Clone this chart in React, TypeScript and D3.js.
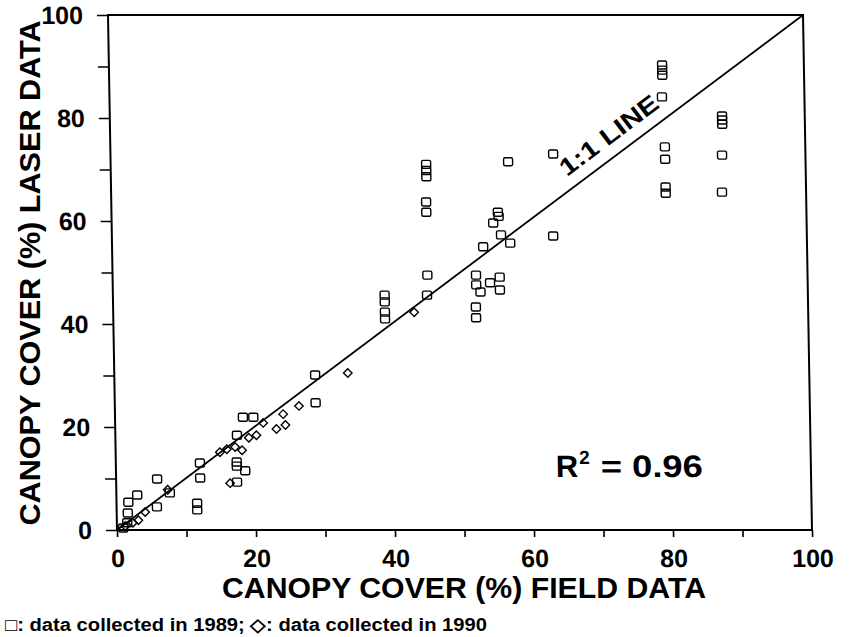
import React, { useEffect, useRef } from 'react';
import * as d3 from 'd3';

// squares: data collected in 1989
const field1989 = [0.9, 1.5, 1.6, 1.7, 3.0, 5.8, 5.9, 7.7, 11.6, 11.6, 12.1, 12.1, 17.5, 17.4, 17.4, 18.6, 17.4, 18.4, 19.9, 28.9, 28.9,
  39.1, 39.1, 39.1, 39.1, 45.3, 45.2, 45.4, 45.4, 45.4, 45.3, 45.3, 52.3, 52.3, 52.9, 54.3, 55.7, 55.7, 52.2, 52.2, 53.4, 54.9,
  55.6, 55.7, 56.0, 57.3, 57.2, 63.7, 63.5, 79.6, 79.6, 79.6, 79.5, 79.8, 79.8, 79.8, 79.8, 88.1, 88.1, 88.1, 88.0, 87.9];
const laser1989 = [0.4, 1.4, 3.3, 5.4, 6.8, 4.5, 9.9, 7.2, 5.2, 3.9, 13.0, 10.1, 18.4, 13.2, 12.4, 11.5, 9.3, 21.9, 21.9, 24.7, 30.1,
  45.6, 44.3, 42.3, 41.0, 49.5, 45.6, 71.0, 69.8, 68.6, 63.7, 61.7, 49.5, 47.6, 46.2, 48.0, 49.1, 46.6, 43.3, 41.2, 55.0, 59.6,
  61.7, 60.9, 57.3, 55.7, 71.5, 73.0, 57.1, 90.3, 89.3, 88.3, 84.1, 74.4, 72.0, 66.6, 65.4, 80.4, 79.6, 78.8, 72.8, 65.6];

// diamonds: data collected in 1990
const field1990 = [16.4, 17.2, 18.2, 16.0, 15.0, 19.2, 20.3, 21.3, 23.2, 24.5, 24.2, 26.5, 4.1, 3.1, 2.3, 7.4, 1.2, 33.6, 43.3];
const laser1990 = [9.1, 16.1, 15.5, 15.7, 15.1, 17.9, 18.4, 20.8, 19.6, 20.4, 22.5, 24.1, 3.5, 1.9, 1.4, 7.8, 0.8, 30.5, 42.3];

const xTicks = [0, 10, 20, 30, 40, 50, 60, 70, 80, 90, 100];
const yTicks = [0, 10, 20, 30, 40, 50, 60, 70, 80, 90, 100];

const font = '"Liberation Sans", Arial, Helvetica, sans-serif';

export default function App() {
  const svgRef = useRef<SVGSVGElement>(null);
  const width = 850;
  const height = 637;

  useEffect(() => {
    const svg = d3.select(svgRef.current);
    svg.selectAll('*').remove();

    const W = 695;
    const H = 515;
    const x = d3.scaleLinear().domain([0, 100]).range([0, W]);
    const y = d3.scaleLinear().domain([0, 100]).range([H, 0]);

    // the scan leans a little, so the plot is sheared by a degree
    const g = svg.append('g').attr('transform', 'translate(108,15) skewX(1)');

    g.append('rect')
      .attr('width', W)
      .attr('height', H)
      .attr('fill', 'none')
      .attr('stroke', '#000')
      .attr('stroke-width', 2);

    const yAxis = d3.axisLeft(y)
      .tickValues(yTicks)
      .tickSize(11)
      .tickPadding(14)
      .tickFormat(d => (+d % 20 === 0 ? String(d) : ''));
    const ya = g.append('g').call(yAxis);
    ya.select('.domain').remove();
    ya.selectAll('line').attr('stroke-width', 1.6);
    ya.selectAll('text')
      .attr('font-family', font)
      .attr('font-weight', 'bold')
      .attr('font-size', 25)
      .attr('fill', '#000');

    const xAxis = d3.axisBottom(x)
      .tickValues(xTicks)
      .tickSize(7)
      .tickPadding(12)
      .tickFormat(d => (+d % 20 === 0 ? String(d) : ''));
    const xa = g.append('g').attr('transform', `translate(0,${H})`).call(xAxis);
    xa.select('.domain').remove();
    xa.selectAll('line').attr('stroke-width', 1.6);
    xa.selectAll('text')
      .attr('font-family', font)
      .attr('font-weight', 'bold')
      .attr('font-size', 25)
      .attr('fill', '#000');

    // 1:1 line
    g.append('line')
      .attr('x1', x(0)).attr('y1', y(0))
      .attr('x2', x(100)).attr('y2', y(100))
      .attr('stroke', '#000')
      .attr('stroke-width', 1.8);

    const angle = Math.atan2(y(100) - y(0), x(100) - x(0)) * 180 / Math.PI;
    g.append('text')
      .attr('transform', `translate(${x(73.5)},${y(73.5)}) rotate(${angle}) translate(0,-12)`)
      .attr('text-anchor', 'middle')
      .attr('font-family', font)
      .attr('font-weight', 'bold')
      .attr('font-size', 24)
      .attr('textLength', 118)
      .attr('lengthAdjust', 'spacingAndGlyphs')
      .text('1:1 LINE');

    const sq = field1989.map((f, i) => [f, laser1989[i]]);
    g.selectAll('.sq')
      .data(sq)
      .enter().append('rect')
      .attr('class', 'sq')
      .attr('x', d => x(d[0]) - 4.5)
      .attr('y', d => y(d[1]) - 4)
      .attr('width', 9)
      .attr('height', 8)
      .attr('rx', 1.5)
      .attr('fill', 'none')
      .attr('stroke', '#000')
      .attr('stroke-width', 1.4);

    const dm = field1990.map((f, i) => [f, laser1990[i]]);
    const diamond = d3.symbol().type(d3.symbolDiamond2).size(46);
    g.selectAll('.dm')
      .data(dm)
      .enter().append('path')
      .attr('class', 'dm')
      .attr('transform', d => `translate(${x(d[0])},${y(d[1])})`)
      .attr('d', diamond)
      .attr('fill', 'none')
      .attr('stroke', '#000')
      .attr('stroke-width', 1.4);

    // R squared
    const r = g.append('text')
      .attr('x', x(63.3))
      .attr('y', y(10.3))
      .attr('font-family', font)
      .attr('font-weight', 'bold')
      .attr('font-size', 31);
    r.append('tspan').text('R');
    r.append('tspan').attr('font-size', 19).attr('dy', -13).attr('dx', 1).text('2');
    g.append('text')
      .attr('x', x(63.3) + 45)
      .attr('y', y(10.3))
      .attr('font-family', font)
      .attr('font-weight', 'bold')
      .attr('font-size', 31)
      .attr('textLength', 102)
      .attr('lengthAdjust', 'spacingAndGlyphs')
      .text('= 0.96');

    // axis titles
    svg.append('text')
      .attr('transform', 'translate(40,273) rotate(-90)')
      .attr('text-anchor', 'middle')
      .attr('font-family', font)
      .attr('font-weight', 'bold')
      .attr('font-size', 29)
      .attr('textLength', 505)
      .attr('lengthAdjust', 'spacingAndGlyphs')
      .text('CANOPY COVER (%) LASER DATA');

    svg.append('text')
      .attr('x', 464)
      .attr('y', 598)
      .attr('text-anchor', 'middle')
      .attr('font-family', font)
      .attr('font-weight', 'bold')
      .attr('font-size', 29)
      .attr('textLength', 484)
      .attr('lengthAdjust', 'spacingAndGlyphs')
      .text('CANOPY COVER (%) FIELD DATA');

    svg.append('text')
      .attr('x', 5)
      .attr('y', 631)
      .attr('font-family', font)
      .attr('font-weight', 'bold')
      .attr('font-size', 18)
      .attr('textLength', 482)
      .attr('lengthAdjust', 'spacingAndGlyphs')
      .text('\u25A1: data collected in 1989;  \u25C7: data collected in 1990');
  }, []);

  return (
    <svg ref={svgRef} width={width} height={height}
      style={{ position: 'absolute', left: 0, top: 0, background: '#fff' }} />
  );
}
